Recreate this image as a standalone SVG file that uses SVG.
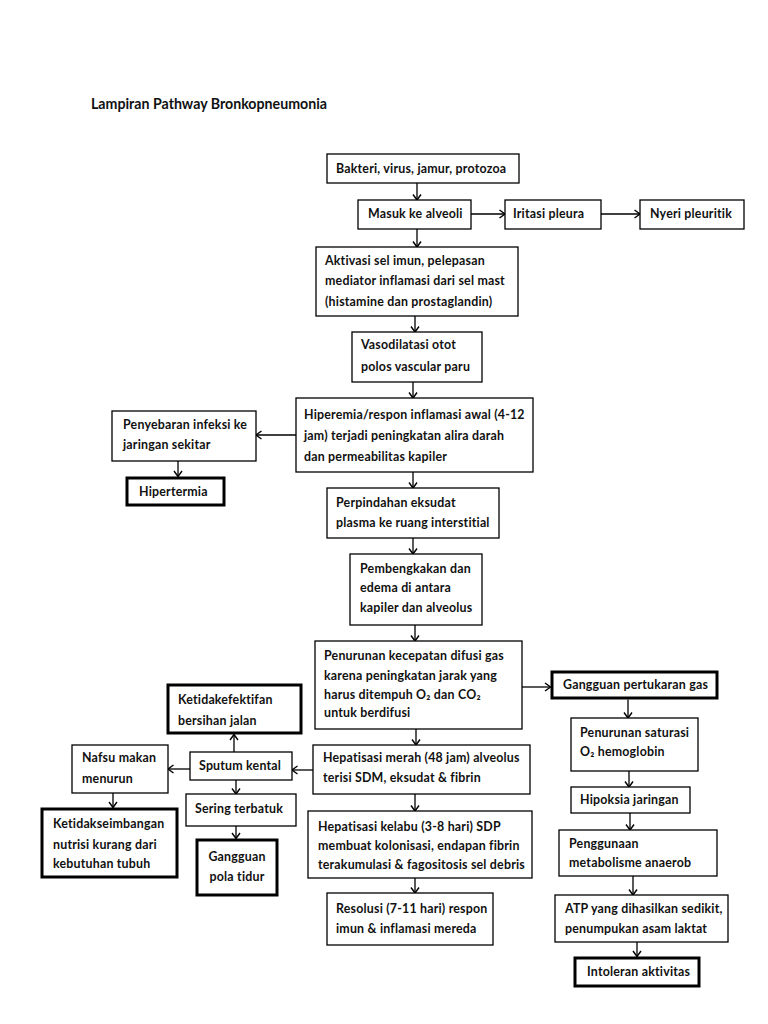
<svg xmlns="http://www.w3.org/2000/svg" width="768" height="1024" viewBox="0 0 768 1024">
<style>
.b{fill:#fff;stroke:#000;stroke-width:1.3}
.t{fill:#fff;stroke:#000;stroke-width:3}
text{font-family:Lato,"Liberation Sans",sans-serif;font-weight:bold;font-size:12.4px;letter-spacing:0.2px;fill:#111}
.ttl{font-size:14.2px;letter-spacing:0}
.c line{stroke:#000;stroke-width:1.3;marker-end:url(#a)}
</style>
<defs>
<marker id="a" markerUnits="userSpaceOnUse" markerWidth="12" markerHeight="12" refX="7" refY="5" orient="auto">
<path d="M1.5,1 L7,5 L1.5,9" fill="none" stroke="#000" stroke-width="1.4"/>
</marker>
</defs>
<rect width="768" height="1024" fill="#fff"/>
<text class="ttl" x="91" y="109">Lampiran Pathway Bronkopneumonia</text>

<g class="c">
<line x1="417" y1="183" x2="417" y2="200"/>
<line x1="471" y1="214" x2="505" y2="214"/>
<line x1="601" y1="214" x2="640" y2="214"/>
<line x1="417" y1="229" x2="417" y2="247"/>
<line x1="415" y1="316" x2="415" y2="332"/>
<line x1="413" y1="382" x2="413" y2="398"/>
<line x1="296" y1="435" x2="256" y2="435"/>
<line x1="178" y1="461" x2="178" y2="476.5"/>
<line x1="413" y1="472" x2="413" y2="488"/>
<line x1="413" y1="538" x2="413" y2="554"/>
<line x1="415" y1="625" x2="415" y2="641"/>
<line x1="522" y1="687" x2="550.5" y2="687"/>
<line x1="628" y1="699.5" x2="628" y2="718"/>
<line x1="629" y1="771" x2="629" y2="787"/>
<line x1="630" y1="813" x2="630" y2="830"/>
<line x1="633" y1="876" x2="633" y2="895"/>
<line x1="637" y1="942" x2="637" y2="956.5"/>
<line x1="416" y1="729" x2="416" y2="745"/>
<line x1="313" y1="770" x2="292" y2="770"/>
<line x1="234" y1="752" x2="234" y2="734.5"/>
<line x1="190" y1="769" x2="168" y2="769"/>
<line x1="113" y1="793" x2="113" y2="807.5"/>
<line x1="236" y1="780" x2="236" y2="794"/>
<line x1="236" y1="826" x2="236" y2="838.5"/>
<line x1="415" y1="794" x2="415" y2="811"/>
<line x1="415" y1="878" x2="415" y2="893"/>
</g>

<g id="n1"><rect class="b" x="327" y="154" width="192" height="29"/><text x="336" y="173">Bakteri, virus, jamur, protozoa</text></g>
<g id="n2"><rect class="b" x="358" y="200" width="113" height="29"/><text x="368" y="218">Masuk ke alveoli</text></g>
<g id="n3"><rect class="b" x="505" y="200" width="96" height="29"/><text x="513" y="218">Iritasi pleura</text></g>
<g id="n4"><rect class="b" x="640" y="200" width="104" height="29"/><text x="650" y="218">Nyeri pleuritik</text></g>
<g id="n5"><rect class="b" x="316" y="247" width="202" height="69"/><text x="325" y="265">Aktivasi sel imun, pelepasan</text><text x="325" y="285">mediator inflamasi dari sel mast</text><text x="325" y="306">(histamine dan prostaglandin)</text></g>
<g id="n6"><rect class="b" x="352" y="332" width="130" height="50"/><text x="361" y="349">Vasodilatasi otot</text><text x="361" y="371">polos vascular paru</text></g>
<g id="n7"><rect class="b" x="296" y="398" width="237" height="74"/><text x="304" y="419">Hiperemia/respon inflamasi awal (4-12</text><text x="304" y="440">jam) terjadi peningkatan alira darah</text><text x="304" y="461">dan permeabilitas kapiler</text></g>
<g id="n8"><rect class="b" x="112" y="411" width="144" height="50"/><text x="123" y="429">Penyebaran infeksi ke</text><text x="123" y="449">jaringan sekitar</text></g>
<g id="n9"><rect class="t" x="127" y="478" width="97" height="27"/><text x="139" y="496">Hipertermia</text></g>
<g id="n10"><rect class="b" x="327" y="488" width="172" height="50"/><text x="336" y="507">Perpindahan eksudat</text><text x="336" y="527">plasma ke ruang interstitial</text></g>
<g id="n11"><rect class="b" x="350" y="554" width="132" height="71"/><text x="360" y="573">Pembengkakan dan</text><text x="360" y="592">edema di antara</text><text x="360" y="612">kapiler dan alveolus</text></g>
<g id="n12"><rect class="b" x="315" y="641" width="207" height="88"/><text x="324" y="660">Penurunan kecepatan difusi gas</text><text x="324" y="680">karena peningkatan jarak yang</text><text x="324" y="699">harus ditempuh O₂ dan CO₂</text><text x="324" y="717">untuk berdifusi</text></g>
<g id="n13"><rect class="t" x="552" y="672" width="165" height="26"/><text x="563" y="689">Gangguan pertukaran gas</text></g>
<g id="n14"><rect class="b" x="571" y="718" width="127" height="53"/><text x="580" y="737">Penurunan saturasi</text><text x="580" y="756">O₂ hemoglobin</text></g>
<g id="n15"><rect class="b" x="571" y="787" width="119" height="26"/><text x="580" y="804">Hipoksia jaringan</text></g>
<g id="n16"><rect class="b" x="559" y="830" width="158" height="46"/><text x="569" y="848">Penggunaan</text><text x="569" y="867">metabolisme anaerob</text></g>
<g id="n17"><rect class="b" x="555" y="895" width="173" height="47"/><text x="565" y="913">ATP yang dihasilkan sedikit,</text><text x="565" y="933">penumpukan asam laktat</text></g>
<g id="n18"><rect class="t" x="575" y="958" width="124" height="28"/><text x="587" y="976">Intoleran aktivitas</text></g>
<g id="n19"><rect class="t" x="168" y="685" width="133" height="48"/><text x="178" y="704">Ketidakefektifan</text><text x="178" y="725">bersihan jalan</text></g>
<g id="n20"><rect class="b" x="190" y="752" width="102" height="28"/><text x="199" y="770">Sputum kental</text></g>
<g id="n21"><rect class="b" x="72" y="745" width="96" height="48"/><text x="82" y="762">Nafsu makan</text><text x="82" y="783">menurun</text></g>
<g id="n22"><rect class="t" x="42" y="809" width="135" height="68"/><text x="53" y="828">Ketidakseimbangan</text><text x="53" y="849">nutrisi kurang dari</text><text x="53" y="868">kebutuhan tubuh</text></g>
<g id="n23"><rect class="b" x="186" y="794" width="110" height="32"/><text x="195" y="813">Sering terbatuk</text></g>
<g id="n24"><rect class="t" x="197" y="840" width="80" height="55"/><text x="237" y="861" text-anchor="middle">Gangguan</text><text x="237" y="881" text-anchor="middle">pola tidur</text></g>
<g id="n25"><rect class="b" x="313" y="745" width="217" height="49"/><text x="323" y="762">Hepatisasi merah (48 jam) alveolus</text><text x="323" y="782">terisi SDM, eksudat &amp; fibrin</text></g>
<g id="n26"><rect class="b" x="308" y="811" width="224" height="67"/><text x="318" y="831">Hepatisasi kelabu (3-8 hari) SDP</text><text x="318" y="850">membuat kolonisasi, endapan fibrin</text><text x="318" y="869">terakumulasi &amp; fagositosis sel debris</text></g>
<g id="n27"><rect class="b" x="327" y="893" width="166" height="52"/><text x="336" y="913">Resolusi (7-11 hari) respon</text><text x="336" y="933">imun &amp; inflamasi mereda</text></g>
</svg>
